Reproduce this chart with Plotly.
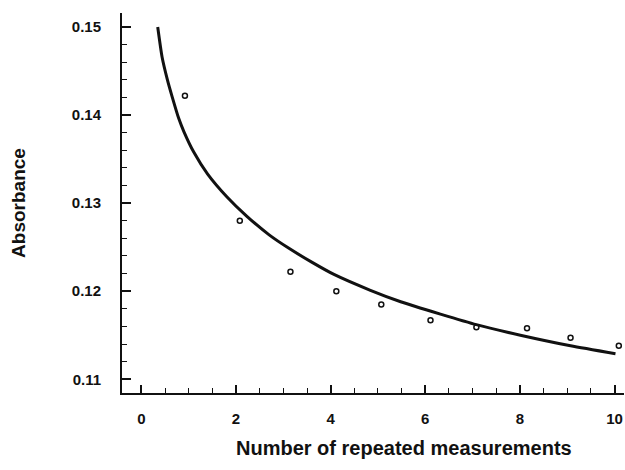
import plotly.graph_objects as go

# Measured data points (open circles)
meas_x = [0.92, 2.08, 3.15, 4.12, 5.07, 6.11, 7.08, 8.15, 9.07, 10.09]
meas_y = [0.1422, 0.1280, 0.1222, 0.1200, 0.1185, 0.1167, 0.1159, 0.1158, 0.1147, 0.1138]

# Fitted curve
curve_x = [0.345, 0.437, 0.55, 0.649, 0.79, 0.90, 1.106, 1.4, 1.81, 2.23, 2.7, 3.11,
           3.6, 4.07, 4.84, 5.48, 6.32, 7.08, 8.01, 9.07, 10.02]
curve_y = [0.1500, 0.1466, 0.1440, 0.1421, 0.1396, 0.1381, 0.1358, 0.1333, 0.1307, 0.1285,
           0.1264, 0.1249, 0.1233, 0.1219, 0.1201, 0.1188, 0.1174, 0.1162, 0.1150, 0.1138, 0.1129]

x_title = "Number of repeated measurements"
y_title = "Absorbance"

FONT = "Liberation Sans"

fig = go.Figure()
fig.add_trace(go.Scatter(x=curve_x, y=curve_y, mode="lines",
                         line=dict(color="#111111", width=3, shape="spline", smoothing=0.6),
                         hoverinfo="skip", showlegend=False))
fig.add_trace(go.Scatter(x=meas_x, y=meas_y, mode="markers",
                         marker=dict(symbol="circle-open", size=5, color="#111111",
                                     line=dict(width=1.5, color="#111111")),
                         cliponaxis=False, showlegend=False))

W, H = 625, 470
L, T = 121.6, 13
R = W - 623.8
B = H - 392.7

fig.update_layout(
    width=W, height=H,
    margin=dict(l=L, r=R, t=T, b=B, autoexpand=False),
    paper_bgcolor="white", plot_bgcolor="white",
    font=dict(family=FONT, color="#111111", size=15, weight="bold"),
    xaxis=dict(range=[-0.41, 10.2], tick0=0, dtick=2, ticks="inside", ticklen=8, tickwidth=1.5,
               tickcolor="#111111", showline=True, linewidth=2, linecolor="#111111",
               showgrid=False, zeroline=False, ticklabelstandoff=11,
               tickfont=dict(family=FONT, size=15, weight="bold", color="#111111"),
               minor=dict(dtick=0.5, tick0=0, ticks="inside", ticklen=5, tickwidth=1.2,
                          tickcolor="#111111", showgrid=False)),
    yaxis=dict(range=[0.10844, 0.15159], tick0=0.11, dtick=0.01, ticks="inside", ticklen=9,
               tickwidth=1.5, tickcolor="#111111", showline=True, linewidth=2,
               linecolor="#111111", showgrid=False, zeroline=False, ticklabelstandoff=16,
               tickformat=".2f",
               tickfont=dict(family=FONT, size=15, weight="bold", color="#111111"),
               minor=dict(dtick=0.002, tick0=0.11, ticks="inside", ticklen=5, tickwidth=1.2,
                          tickcolor="#111111", showgrid=False)),
    annotations=[
        dict(text=x_title, x=5.55, xref="x", y=-(448 - 392.7) / (392.7 - 13), yref="paper",
             xanchor="center", yanchor="middle", showarrow=False,
             font=dict(family=FONT, size=20, weight="bold", color="#111111")),
        dict(text=y_title, x=(17.5 - 121.6) / (623.8 - 121.6), xref="paper", y=0.5, yref="paper",
             xanchor="center", yanchor="middle", textangle=-90, showarrow=False,
             font=dict(family=FONT, size=19, weight="bold", color="#111111")),
    ],
)

fig.write_html(
    "out.html",
    config={"displayModeBar": False},
    post_script="document.body.style.margin='0';document.body.style.overflow='hidden';",
)
